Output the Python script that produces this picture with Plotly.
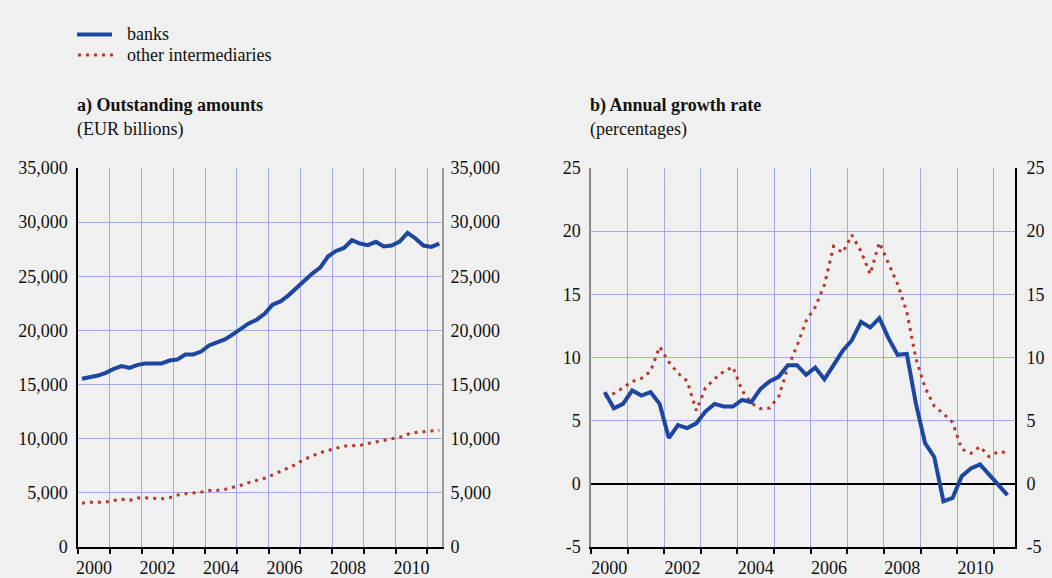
import plotly.graph_objects as go

W, H = 1052, 578

# ---------------- data ----------------
quarters_amounts = [f"{2000 + i // 4}Q{i % 4 + 1}" for i in range(46)]   # 2000Q1 .. 2011Q2
quarters_growth = [f"{2000 + (i + 1) // 4}Q{(i + 1) % 4 + 1}" for i in range(45)]  # 2000Q2 .. 2011Q2

banks_amounts = [15530, 15680, 15830, 16080, 16450, 16700, 16540, 16820, 16940, 16940,
                 16940, 17220, 17310, 17780, 17780, 18050, 18610, 18890, 19170, 19630,
                 20150, 20650, 20990, 21540, 22380, 22680, 23240, 23920, 24630, 25250,
                 25800, 26850, 27340, 27620, 28330, 28020, 27870, 28180, 27750, 27840,
                 28210, 29010, 28490, 27840, 27710, 28020]
other_amounts = [4040, 4136, 4136, 4150, 4290, 4400, 4300, 4530, 4540, 4530,
                 4450, 4550, 4790, 4910, 4980, 5070, 5210, 5230, 5320, 5480,
                 5700, 5950, 6120, 6350, 6650, 7000, 7300, 7650, 8100, 8400,
                 8700, 8920, 9150, 9320, 9350, 9380, 9560, 9700, 9830, 9980,
                 10130, 10420, 10580, 10650, 10700, 10780]

banks_growth = [7.26, 5.98, 6.33, 7.39, 6.99, 7.26, 6.33, 3.62, 4.65, 4.41,
                4.79, 5.72, 6.33, 6.12, 6.12, 6.65, 6.46, 7.5, 8.1, 8.47,
                9.39, 9.39, 8.63, 9.21, 8.28, 9.47, 10.53, 11.37, 12.82, 12.37,
                13.11, 11.53, 10.21, 10.29, 6.33, 3.22, 2.13, -1.38, -1.12, 0.61,
                1.22, 1.54, 0.74, -0.1, -0.9]
other_growth = [6.9, 7.15, 7.6, 8.1, 8.35, 8.9, 10.85, 9.65, 8.75, 8.15,
                5.8, 7.6, 8.3, 8.9, 9.25, 7.4, 6.4, 5.95, 6.0, 6.9,
                9.2, 10.9, 12.9, 14.0, 15.75, 18.8, 18.3, 19.7, 18.4, 16.6,
                19.1, 17.4, 15.8, 13.6, 9.9, 7.6, 6.15, 5.55, 4.87, 2.75,
                2.42, 2.95, 2.15, 2.55, 2.45]

year_labels = ["2000", "2002", "2004", "2006", "2008", "2010"]
amount_ticks = [0, 5000, 10000, 15000, 20000, 25000, 30000, 35000]
growth_ticks = [-5, 0, 5, 10, 15, 20, 25]


def qpos(q):
    y, n = q.split("Q")
    return int(y) + (int(n) - 1) * 0.25 + 0.125


x_amounts = [qpos(q) for q in quarters_amounts]
x_growth = [qpos(q) for q in quarters_growth]

# ---------------- style ----------------
BLUE = "#1c46a0"
RED = "#b3382c"
GRID = "#a3aae3"
BG = "#f0f0f0"
FONT = dict(family="Liberation Serif", size=18, color="#111111")


def px(x):
    return x / W


def py(y):
    return 1 - y / H


fig = go.Figure()

# left panel
fig.add_trace(go.Scatter(x=x_amounts, y=other_amounts, mode="lines", name="other intermediaries",
                         line=dict(color=RED, width=3, dash="3px,5px"), xaxis="x", yaxis="y",
                         showlegend=False))
fig.add_trace(go.Scatter(x=x_amounts, y=banks_amounts, mode="lines", name="banks",
                         line=dict(color=BLUE, width=4), xaxis="x", yaxis="y", showlegend=False))
fig.add_trace(go.Scatter(x=[x_amounts[0]], y=[banks_amounts[0]], mode="markers",
                         marker=dict(opacity=0), xaxis="x", yaxis="y3", showlegend=False,
                         hoverinfo="skip"))
# right panel
fig.add_trace(go.Scatter(x=x_growth, y=other_growth, mode="lines", name="other intermediaries",
                         line=dict(color=RED, width=3, dash="3px,5px"), xaxis="x2", yaxis="y2",
                         showlegend=False))
fig.add_trace(go.Scatter(x=x_growth, y=banks_growth, mode="lines", name="banks",
                         line=dict(color=BLUE, width=4), xaxis="x2", yaxis="y2", showlegend=False))
fig.add_trace(go.Scatter(x=[x_growth[0]], y=[banks_growth[0]], mode="markers",
                         marker=dict(opacity=0), xaxis="x2", yaxis="y4", showlegend=False,
                         hoverinfo="skip"))

ydom = [py(547), py(168)]
label_pos = [int(l) + 0.5 for l in year_labels]


def xaxis_cfg(dom, rng, anchor):
    return dict(domain=dom, range=rng, anchor=anchor, tickmode="array",
                tickvals=label_pos, ticktext=year_labels, ticks="", showgrid=False,
                showline=True, linecolor="black", linewidth=1.5, zeroline=False,
                tickfont=FONT, ticklabelstandoff=4, automargin=False,
                minor=dict(tickmode="array", tickvals=list(range(2000, 2012)), ticks="outside",
                           ticklen=5, tickwidth=2, tickcolor="black", showgrid=True,
                           gridcolor=GRID, gridwidth=1))


amount_text = [f"{v:,}" for v in amount_ticks]
growth_text = [str(v) for v in growth_ticks]

fig.update_layout(
    width=W, height=H, margin=dict(l=0, r=0, t=0, b=0, pad=0, autoexpand=False),
    paper_bgcolor=BG, plot_bgcolor=BG, font=FONT, showlegend=False,
    xaxis=xaxis_cfg([px(78), px(442)], [2000, 2011.46], "y"),
    xaxis2=xaxis_cfg([px(591), px(1015)], [2000, 2011.58], "y2"),
    yaxis=dict(domain=ydom, range=[0, 35000], anchor="x", side="left", tickmode="array",
               tickvals=amount_ticks, ticktext=amount_text, showgrid=True, gridcolor=GRID,
               gridwidth=1, showline=True, linecolor="black", linewidth=1.5, ticks="",
               zeroline=False, tickfont=FONT, ticklabelstandoff=5, automargin=False),
    yaxis3=dict(overlaying="y", matches="y", range=[0, 35000], anchor="x", side="right",
                tickmode="array", tickvals=amount_ticks, ticktext=amount_text, showgrid=False,
                showline=True, linecolor="#9a9a9a", linewidth=2, ticks="", zeroline=False,
                tickfont=FONT, ticklabelstandoff=3, automargin=False),
    yaxis2=dict(domain=ydom, range=[-5, 25], anchor="x2", side="left", tickmode="array",
                tickvals=growth_ticks, ticktext=growth_text, showgrid=True, gridcolor=GRID,
                gridwidth=1, showline=True, linecolor="#8a8a8a", linewidth=1.5, ticks="",
                zeroline=True, zerolinecolor="black", zerolinewidth=1.5, tickfont=FONT,
                ticklabelstandoff=5, automargin=False),
    yaxis4=dict(overlaying="y2", matches="y2", range=[-5, 25], anchor="x2", side="right",
                tickmode="array", tickvals=growth_ticks, ticktext=growth_text, showgrid=False,
                showline=True, linecolor="black", linewidth=2, ticks="", zeroline=False,
                tickfont=FONT, ticklabelstandoff=6, automargin=False),
)

# manual legend
fig.add_shape(type="line", xref="paper", yref="paper", x0=px(77), x1=px(112), y0=py(34.5),
              y1=py(34.5), line=dict(color=BLUE, width=4))
fig.add_shape(type="line", xref="paper", yref="paper", x0=px(78), x1=px(113), y0=py(55),
              y1=py(55), line=dict(color=RED, width=3, dash="3px,5px"))


def note(text, x, y):
    fig.add_annotation(text=text, xref="paper", yref="paper", x=px(x), y=py(y),
                       xanchor="left", yanchor="middle", showarrow=False, font=FONT)


note("banks", 125, 34)
note("other intermediaries", 125, 55)
note("<b>a) Outstanding amounts</b>", 75, 105)
note("(EUR billions)", 75, 129)
note("<b>b) Annual growth rate</b>", 588, 105)
note("(percentages)", 588, 129)

fig.write_html("out.html", config={"displayModeBar": False},
               post_script="document.body.style.margin='0';document.body.style.overflow='hidden';")
